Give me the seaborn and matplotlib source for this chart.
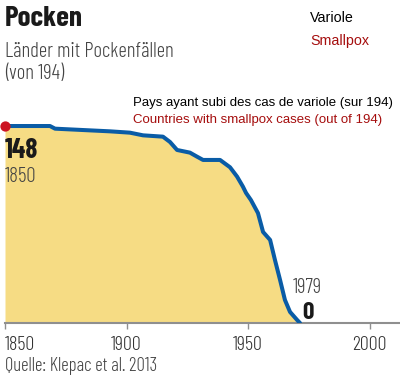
import matplotlib
matplotlib.use("Agg")
import matplotlib.pyplot as plt
from matplotlib import font_manager as fm
import seaborn as sns
import pandas as pd

years = [1850, 1868.5, 1870.6, 1893.2, 1901.4, 1906.8, 1915.0, 1917.9, 1920.8, 1926.1,
         1929.0, 1931.5, 1938.5, 1942.6, 1945.5, 1947.9, 1949.2, 1951.2, 1954.1, 1956.2,
         1959.1, 1961.1, 1963.2, 1965.2, 1967.3, 1970.2, 1971.4]
countries = [148, 148, 146, 144, 143, 141, 140, 136, 130, 128,
             125, 122.5, 122.5, 117, 110, 102.5, 97.7, 92.4, 82.6, 68.4,
             62.4, 47.3, 32.3, 17.3, 8.3, 2.3, 0]
xticks = [1850, 1900, 1950, 2000]

df = pd.DataFrame({"year": years, "n": countries})

sns.set_theme(style="white")
available = {f.name for f in fm.fontManager.ttflist}
cond_name = "DejaVu Sans"
for cand in ["Barlow Condensed", "Roboto Condensed", "PT Sans Narrow", "Archivo Narrow",
             "Liberation Sans Narrow", "Oswald"]:
    if cand in available:
        cond_name = cand
        break
cond = [cond_name, "DejaVu Sans"]
plt.rcParams["font.family"] = ["Liberation Sans", "DejaVu Sans"]

W, H = 400, 376
fig = plt.figure(figsize=(W / 100, H / 100), dpi=100)
ax = fig.add_axes([5 / W, 1 - 323 / H, 395 / W, 323 / H])
ax.set_xlim(1850, 1850 + 395 / 2.43)
ax.set_ylim(0, 323 / 1.331)

ax.fill_between(df["year"], df["n"], 0, color="#f6dc84", lw=0, zorder=1)
sns.lineplot(data=df, x="year", y="n", ax=ax, color="#0a5ca6", lw=2.9, zorder=3)
ax.scatter([years[0]], [countries[0]], s=55, color="#cc1422", zorder=4, clip_on=False,
           linewidths=0)

for s in ["top", "left", "right"]:
    ax.spines[s].set_visible(False)
ax.spines["bottom"].set_color("#8f8f8f")
ax.spines["bottom"].set_linewidth(1.5)
ax.set_xticks(xticks)
ax.set_xticklabels([str(t) for t in xticks], family=cond, fontweight=300, fontsize=14.5,
                   color="#333333")
ax.get_xticklabels()[0].set_horizontalalignment("left")
ax.tick_params(axis="x", direction="out", length=4, width=1, color="#8f8f8f", pad=5,
               bottom=True)
ax.set_yticks([])
ax.set_xlabel("")
ax.set_ylabel("")
ax.patch.set_alpha(0)


def ftxt(x, yb, s, **kw):
    fig.text(x / W, 1 - yb / H, s, va="baseline", ha=kw.pop("ha", "left"), **kw)


ftxt(5, 26, "Pocken", family=cond, fontweight="bold", fontsize=21, color="#1a1a1a")
ftxt(5, 57, "Länder mit Pockenfällen", family=cond, fontweight=300, fontsize=15,
     color="#444444")
ftxt(5, 79, "(von 194)", family=cond, fontweight=300, fontsize=15, color="#444444")
ftxt(310, 22.5, "Variole", fontsize=10.3, color="black")
ftxt(310, 45, "Smallpox", fontsize=10.3, color="#a50d0d")
ftxt(133, 106, "Pays ayant subi des cas de variole (sur 194)", fontsize=9.5, color="black")
ftxt(133, 123.5, "Countries with smallpox cases (out of 194)", fontsize=9.5, color="#a50d0d")

ftxt(5, 158, "148", family=cond, fontweight="bold", fontsize=20, color="#1a1a1a")
ftxt(5, 182, "1850", family=cond, fontweight=300, fontsize=15, color="#444444")
ftxt(307.5, 293, "1979", family=cond, fontweight=300, fontsize=15, color="#444444", ha="center")
ftxt(308, 319, "0", family=cond, fontweight="bold", fontsize=18, color="#1a1a1a", ha="center")

ftxt(5, 371, "Quelle: Klepac et al. 2013", family=cond, fontweight=300, fontsize=13.5,
     color="#444444")

fig.savefig("out.png", dpi=100)
